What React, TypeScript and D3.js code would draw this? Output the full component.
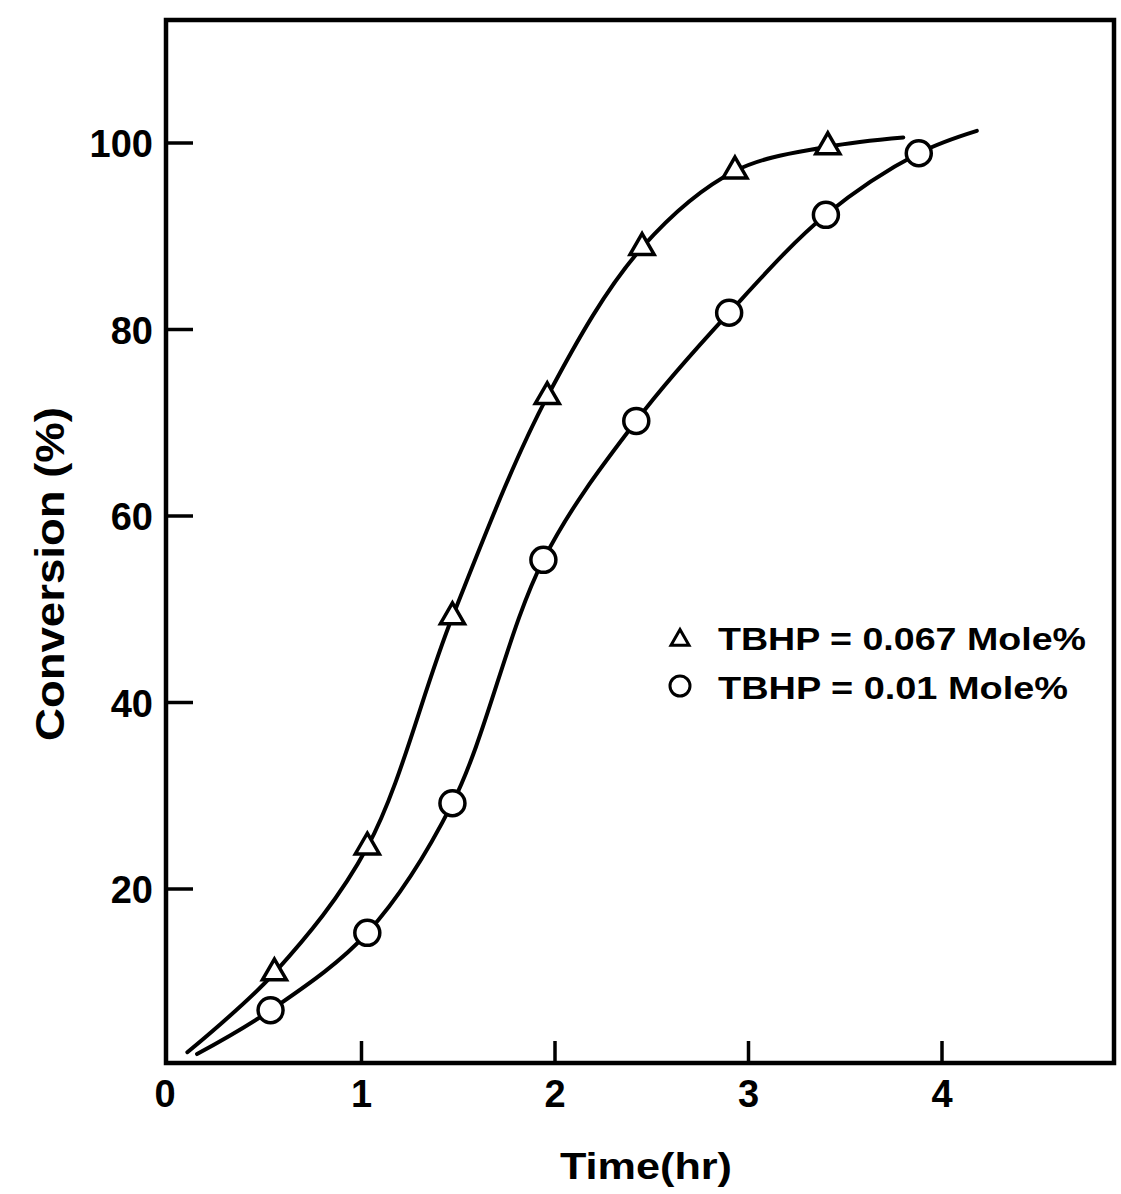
import React from "react";
import * as d3 from "d3";

// Data (time in hr, conversion in %)
const triTime = [0.55, 1.03, 1.47, 1.96, 2.45, 2.93, 3.41];
const triConv = [11.0, 24.5, 49.2, 72.8, 88.8, 97.0, 99.6];
const cirTime = [0.53, 1.03, 1.47, 1.94, 2.42, 2.9, 3.4, 3.88];
const cirConv = [7.0, 15.3, 29.2, 55.3, 70.2, 81.8, 92.3, 98.9];

// Hand-drawn fitted curves (start / end points of the drawn lines)
const triCurveTime = [0.1, 0.55, 1.03, 1.47, 1.96, 2.45, 2.93, 3.41, 3.8];
const triCurveConv = [2.5, 11.0, 24.5, 49.2, 72.8, 88.8, 97.0, 99.6, 100.6];
const cirCurveTime = [0.15, 0.53, 1.03, 1.47, 1.94, 2.42, 2.9, 3.4, 3.88, 4.18];
const cirCurveConv = [2.3, 7.0, 15.3, 29.2, 55.3, 70.2, 81.8, 92.3, 98.9, 101.3];

const xTicks = [0, 1, 2, 3, 4];
const yTicks = [20, 40, 60, 80, 100];
const legendLabels = ["TBHP = 0.067 Mole%", "TBHP = 0.01 Mole%"];
const xTitle = "Time(hr)";
const yTitle = "Conversion  (%)";

const FONT = "'Liberation Sans', Arial, Helvetica, sans-serif";

export default function App() {
  const x = d3.scaleLinear().domain([0, 4]).range([168, 942]);
  const y = d3.scaleLinear().domain([0, 100]).range([1075.5, 143]);
  const xMin = x.invert(166);
  const xMax = x.invert(1114);
  const yMin = y.invert(1063);
  const yMax = y.invert(20);

  const line = d3
    .line<[number, number]>()
    .x((d) => x(d[0]))
    .y((d) => y(d[1]))
    .curve(d3.curveCatmullRom.alpha(0.5));

  const triPath = line(triCurveTime.map((t, i) => [t, triCurveConv[i]]) as [number, number][]);
  const cirPath = line(cirCurveTime.map((t, i) => [t, cirCurveConv[i]]) as [number, number][]);

  const triSym = d3.symbol().type(d3.symbolTriangle).size(250)();
  const triSymSmall = d3.symbol().type(d3.symbolTriangle).size(140)();

  const fx0 = x(xMin), fx1 = x(xMax), fy0 = y(yMin), fy1 = y(yMax);

  return (
    <div style={{ position: "absolute", left: 0, top: 0 }}>
      <svg width={1121} height={1194} style={{ display: "block", background: "#fff" }}>
        {/* frame */}
        <rect x={fx0} y={fy1} width={fx1 - fx0} height={fy0 - fy1} fill="none" stroke="#000" strokeWidth={4.5} />
        {/* x ticks */}
        {xTicks.map((t) => (
          <g key={"xt" + t}>
            {t > 0 && <line x1={x(t)} x2={x(t)} y1={fy0} y2={fy0 - 22} stroke="#000" strokeWidth={3.5} />}
            <text x={x(t) - (t === 0 ? 3 : 0)} y={1107} textAnchor="middle" fontFamily={FONT} fontWeight="bold" fontSize={38} fill="#000">
              {t}
            </text>
          </g>
        ))}
        {/* y ticks */}
        {yTicks.map((t) => (
          <g key={"yt" + t}>
            <line x1={fx0} x2={fx0 + 27} y1={y(t)} y2={y(t)} stroke="#000" strokeWidth={3.5} />
            <text x={153} y={y(t) + 14} textAnchor="end" fontFamily={FONT} fontWeight="bold" fontSize={38} fill="#000">
              {t}
            </text>
          </g>
        ))}
        {/* curves */}
        <path d={triPath || ""} fill="none" stroke="#000" strokeWidth={4} strokeLinecap="round" />
        <path d={cirPath || ""} fill="none" stroke="#000" strokeWidth={4} strokeLinecap="round" />
        {/* markers */}
        {triTime.map((t, i) => (
          <path key={"tm" + i} d={triSym || ""} transform={`translate(${x(t)},${y(triConv[i])})`} fill="#fff" stroke="#000" strokeWidth={3.5} />
        ))}
        {cirTime.map((t, i) => (
          <circle key={"cm" + i} cx={x(t)} cy={y(cirConv[i])} r={12.5} fill="#fff" stroke="#000" strokeWidth={3.5} />
        ))}
        {/* legend */}
        <path d={triSymSmall || ""} transform="translate(680,640)" fill="#fff" stroke="#000" strokeWidth={3} />
        <circle cx={680} cy={686} r={10} fill="#fff" stroke="#000" strokeWidth={3} />
        <text x={718} y={650} fontFamily={FONT} fontWeight="bold" fontSize={32} textLength={368} lengthAdjust="spacingAndGlyphs" fill="#000">
          {legendLabels[0]}
        </text>
        <text x={718} y={699} fontFamily={FONT} fontWeight="bold" fontSize={32} textLength={350} lengthAdjust="spacingAndGlyphs" fill="#000">
          {legendLabels[1]}
        </text>
        {/* axis titles */}
        <text x={560} y={1179} fontFamily={FONT} fontWeight="bold" fontSize={36} textLength={172} lengthAdjust="spacingAndGlyphs" fill="#000">
          {xTitle}
        </text>
        <text
          transform="translate(64,574) rotate(-90)"
          textAnchor="middle"
          fontFamily={FONT}
          fontWeight="bold"
          fontSize={40}
          textLength={334}
          lengthAdjust="spacingAndGlyphs"
          fill="#000"
        >
          {yTitle}
        </text>
      </svg>
    </div>
  );
}
